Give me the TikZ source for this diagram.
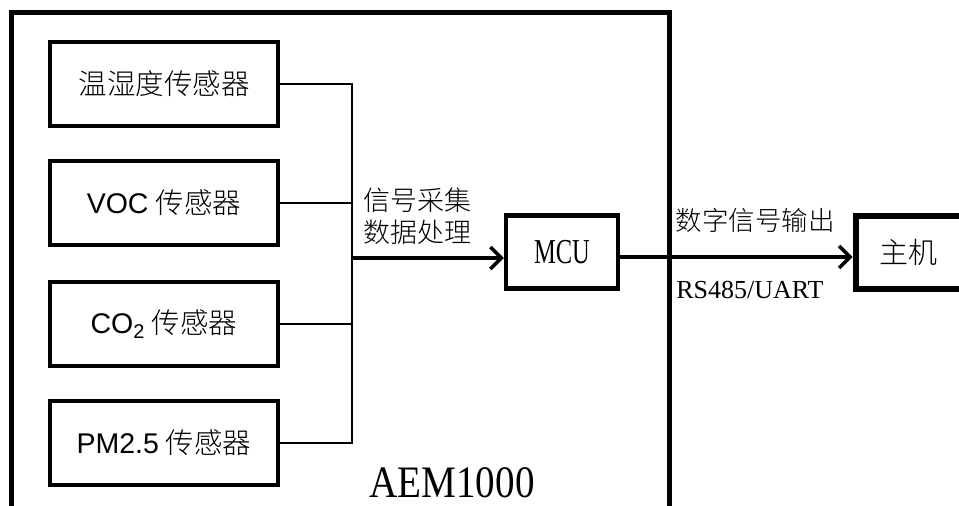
\documentclass[tikz,border=0pt]{standalone}
\usepackage{fontspec}
\usetikzlibrary{arrows.meta}
\setmainfont{Liberation Serif}
\IfFontExistsTF{Noto Sans CJK SC Light}
  {\newfontfamily\cjk{Noto Sans CJK SC Light}}
  {\newfontfamily\cjk{Noto Sans CJK SC}}
\newfontfamily\arial{Liberation Sans}
\newfontfamily\mcufont[FakeStretch=0.7]{Liberation Serif}
\newfontfamily\namefont[FakeStretch=0.87]{Liberation Serif}

\begin{document}
\begin{tikzpicture}
  [x=1pt,y=-1pt,
    every node/.style={inner sep=0pt},
    sensor/.style={draw,line width=4.5pt,minimum width=228pt,minimum height=84pt,
      font=\fontsize{28.5}{32}\selectfont},
    unit/.style={draw,line width=4.5pt,minimum height=73pt},
    wire/.style={line width=2.8pt},
    sig/.style={line width=3.5pt,-{Straight Barb[length=11pt,width=22pt,line width=3.5pt]}},
]
  \useasboundingbox (0,0) rectangle (959,506);
  % module frame, open at the bottom
  \draw[line width=5pt] (11,506) -- (11,12) -- (669,12) -- (669,506);

  \node[sensor] (th) at (164,84) {\cjk 温湿度传感器};
  \node[sensor] (voc) at (164,203) {{\arial VOC} \cjk 传感器};
  \node[sensor] (co2) at (164,324) {{\arial CO\textsubscript{2}} \cjk 传感器};
  \node[sensor] (pm) at (164,443) {{\arial PM2.5} \cjk 传感器};

  \node[unit,minimum width=112pt,font=\mcufont\fontsize{35}{40}\selectfont] (mcu) at (562,252) {MCU};
  % host box runs off the right edge
  \node[unit,line width=6pt,minimum width=135pt,font=\cjk\fontsize{29}{32}\selectfont] (host) at (923,252) {主机\hspace*{30pt}};

  % bus
  \coordinate (bus) at (352,258);
  \draw[wire] (th.east) -- (th.east -| bus) -- (pm.east -| bus) -- (pm.east);
  \draw[wire] (voc.east) -- (voc.east -| bus);
  \draw[wire] (co2.east) -- (co2.east -| bus);
  \draw[sig] (bus) -- (bus -| mcu.west);
  \draw[sig] ([yshift=-5pt]mcu.east) -- ([yshift=-5pt]host.west);

  \node[font=\cjk\fontsize{27}{32}\selectfont,align=left] (proc) at (417,216) {信号采集\\数据处理};
  \node[font=\cjk\fontsize{26.5}{30}\selectfont] (out) at (755,220) {数字信号输出};
  \node[font=\fontsize{26}{30}\selectfont] (port) at (750,290) {RS485/UART};
  \node[font=\namefont\fontsize{45}{50}\selectfont] (name) at (452,483) {AEM1000};
\end{tikzpicture}
\end{document}
